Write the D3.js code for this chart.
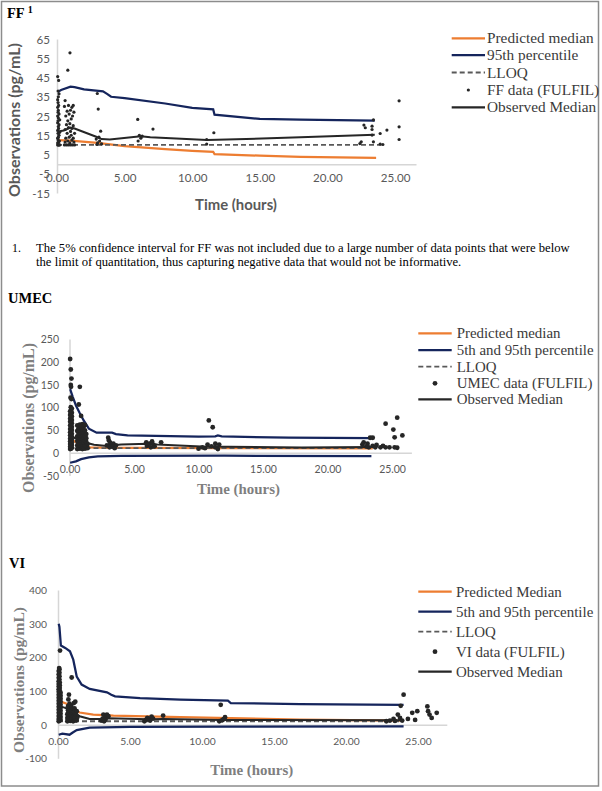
<!DOCTYPE html>
<html><head><meta charset="utf-8">
<script src="https://cdn.jsdelivr.net/npm/d3@7/dist/d3.min.js"></script>
<style>body{margin:0;background:#fff}svg{display:block}</style>
</head><body>
<svg id="chart" width="602" height="791"></svg>
<script>
// ---------------- DATA ----------------
const xTickValues = [0, 5, 10, 15, 20, 25];
const ffYTicks = [-15, -5, 5, 15, 25, 35, 45, 55, 65];
const umecYTicks = [-50, 0, 50, 100, 150, 200, 250];
const viYTicks = [-100, 0, 100, 200, 300, 400];

const ffLegendLabels = ['Predicted median', '95th percentile', 'LLOQ', 'FF data (FULFIL)', 'Observed Median'];
const umecLegendLabels = ['Predicted median', '5th and 95th percentile', 'LLOQ', 'UMEC data (FULFIL)', 'Observed Median'];
const viLegendLabels = ['Predicted Median', '5th and 95th percentile', 'LLOQ', 'VI data (FULFIL)', 'Observed Median'];

// FF series [time (h), concentration (pg/mL)]
const ffPredicted = [[0.05,12.5],[1,12.2],[3,11],[5,9.3],[8,7.8],[10,6.9],[11.55,6.4],[11.65,5.2],[15,4.4],[18,3.8],[23.6,3.2]];
const ffP95 = [[0.05,37.5],[0.3,38.5],[1.0,40.2],[1.3,40],[2,38.8],[3.4,37.8],[3.7,36.5],[4.0,35],[5,34.3],[8,31.5],[10,29.2],[11.55,28.5],[11.65,25.7],[15,23.5],[18,23.1],[23.5,22.6]];
const ffLLOQ = [[0,10],[24,10]];
const ffObsMedian = [[0.08,17],[0.5,17.5],[1.0,19],[1.3,18.5],[2.9,14.2],[3.3,13],[3.9,12.8],[6.2,14.5],[6.9,14],[11.1,12.5],[18,13.9],[23.5,15.3]];
const ffData = [
 [0.05,10],[0.1,10],[0.15,10],[0.2,10],[0.05,11],[0.12,11.5],[0.08,12.5],[0.18,12],[0.05,13.5],[0.1,14],[0.15,15],[0.08,16],[0.2,16.5],[0.05,17.5],[0.12,18.5],[0.1,19.5],[0.15,20.5],[0.05,21.5],[0.08,22.5],[0.2,23],[0.1,24],[0.05,25],[0.15,26],[0.08,27],[0.1,28],[0.05,29.5],[0.12,30.5],[0.08,32],[0.05,33.5],[0.1,35],[0.15,36.5],[0.08,38],[0.05,45.5],[0.12,43.5],
 [0.55,10],[0.7,10],[0.85,10],[1.0,10],[1.15,10],[1.3,10],[0.6,11.5],[0.8,12],[0.95,11],[1.1,12.5],[1.25,11.5],[0.65,13.5],[0.9,14],[1.05,15],[1.2,13.5],[0.75,16],[1.0,17],[1.3,16],[0.6,18],[0.85,19],[1.1,18.5],[0.7,20.5],[0.95,21],[1.2,20],[0.8,22.5],[1.05,23.5],[0.65,25],[0.9,26],[1.15,25],[0.75,27.5],[1.0,28],[1.25,27],[0.55,30],[0.85,30.5],[1.1,29.5],[0.6,33],[1.2,30.5],[0.96,57.8],[0.8,48.8],
 [2.98,36.7],[3.05,28.6],[3.23,17.1],[2.9,13],[3.0,11],[3.15,12],[3.3,10.5],[2.95,10.2],[3.1,14],
 [5.97,23.2],[6.09,15],[6.0,12],[6.2,13.5],[6.3,14.5],[7.1,18.2],
 [11.07,12.8],[11.07,10.4],[11.6,16.3],
 [22.4,10.7],[22.5,11.6],[22.7,20.3],[22.8,18.9],[23.3,19.7],[23.3,18],[23.3,15.1],[23.4,11.6],[23.4,23],[23.9,15.9],[23.9,10.4],[24.1,10.2],[24.4,17.7],[25.3,32.9],[25.3,19.4],[25.3,12.8]
];

// UMEC series
const umecPredicted = [[0.05,30],[0.4,25],[0.7,20],[1.1,14],[1.6,12],[2.5,11],[5,10.5],[12,10],[23.5,9.5]];
const umecP95 = [[0.05,140],[0.25,123],[0.5,104],[0.8,87],[1.1,71],[1.5,53],[2.1,44],[3.3,44],[3.6,41],[4.5,38],[10,35.5],[11.3,36],[11.5,38],[11.8,36],[17,33],[23.4,32]];
const umecP5 = [[0.05,-22],[0.5,-19],[0.9,-14],[1.5,-10],[2.2,-8],[4,-7],[12,-6.5],[23.4,-7.5]];
const umecLLOQ = [[0,10],[23.4,10]];
const umecObsMedian = [[0.05,35],[0.5,32],[0.9,29],[1.3,22],[1.9,17.5],[2.7,15.5],[3.2,16],[4,18],[6.1,20],[6.8,18],[10.2,13.5],[18,11.5],[23.4,12.5]];
const umecData = [
 [0.05,8],[0.12,9],[0.18,11],[0.05,13],[0.12,15],[0.18,17],[0.05,19],[0.12,21],[0.18,23],[0.05,25],[0.12,27],[0.18,29],[0.05,31],[0.12,33],[0.18,35],[0.05,38],[0.12,40],[0.18,42],[0.05,45],[0.12,47],[0.18,50],[0.05,52],[0.12,55],[0.18,57],[0.05,60],[0.12,62],[0.18,65],[0.05,68],[0.12,70],[0.18,72],[0.05,75],[0.12,78],[0.18,80],[0.05,83],[0.12,86],[0.18,88],[0.05,91],[0.12,94],[0.18,97],[0.1,100],
 [0.05,206],[0.1,183],[0.15,163],[0.1,149],[0.12,145],[0.08,121],[0.15,118],
 [0.6,8],[0.8,9],[1.0,8],[1.2,9],[1.4,10],[0.7,12],[0.9,13],[1.1,12],[1.3,14],[0.6,16],[0.8,17],[1.0,18],[1.2,17],[1.4,19],[0.7,21],[0.9,22],[1.1,23],[1.3,24],[0.6,26],[0.8,27],[1.0,28],[1.2,29],[0.7,31],[0.9,33],[1.1,34],[1.3,32],[0.6,36],[0.8,38],[1.0,39],[1.2,37],[0.7,42],[0.9,44],[1.1,45],[1.3,41],[0.6,48],[0.8,50],[1.0,51],[1.2,49],[0.7,54],[0.9,56],[1.1,57],[0.6,60],[0.8,62],[1.0,63],[1.2,61],[0.8,145],[0.72,106],[0.9,81],
 [3.0,33],[3.05,27],[2.9,16],[3.1,12],[3.2,18],[3.3,14],[3.4,20],[3.5,10],[3.6,16],[3.15,22],
 [5.95,23],[6.0,15],[6.2,20],[6.3,12],[6.5,18],[6.6,14],[6.4,25],[7.1,23],
 [10.0,9],[10.3,12],[10.5,10],[10.8,71],[11.1,56],[10.7,18],[11.0,14],[11.3,12],[11.5,8],[11.6,18],[11.3,20],
 [22.7,18],[22.8,23],[23.1,20],[23.2,12],[23.3,33],[23.5,33],[23.5,15],[23.7,12],[24.1,12],[24.5,12],[24.8,12],[25.2,12],[25.4,11],[24.5,64],[25.4,77],[25.1,51],[25.2,34],[25.8,38],[23.0,14],[23.8,17],[24.3,15]
];

// VI series
const viPredicted = [[0.1,70],[0.6,62],[1.06,46],[1.5,36],[2.45,30],[3.85,27],[8.5,22],[16.8,15],[24,12]];
const viP95 = [[0.05,300],[0.1,290],[0.2,235],[0.5,228],[0.83,218],[1.06,193],[1.3,143],[1.64,119],[2.2,106],[3.4,96],[3.7,89],[3.96,84],[5.7,79],[8.5,74],[11.8,71],[12,64],[16.8,61],[24,59]];
const viP5 = [[0.05,-30],[0.3,-27],[0.8,-30],[1.0,-24],[1.3,-16],[2.2,-9],[5,-7],[12,-6],[24,-5]];
const viLLOQ = [[0,10],[24,10]];
const viObsMedian = [[0.1,55],[0.5,50],[1.0,38],[1.5,25],[2.2,17],[3.2,17],[3.5,19],[6.3,16],[7.3,17],[11.3,14],[24,13]];
const viData = [
 [0.05,10],[0.12,12],[0.18,14],[0.05,17],[0.12,20],[0.18,23],[0.05,26],[0.12,29],[0.18,32],[0.05,35],[0.12,38],[0.18,41],[0.05,44],[0.12,47],[0.18,50],[0.05,53],[0.12,56],[0.18,59],[0.05,62],[0.12,65],[0.18,68],[0.05,71],[0.12,74],[0.18,77],[0.05,80],[0.12,83],[0.18,86],[0.05,89],[0.12,92],[0.18,95],[0.05,98],[0.12,101],[0.05,105],[0.12,109],[0.05,113],[0.12,117],[0.05,121],[0.12,125],[0.05,129],[0.1,134],[0.05,139],[0.1,144],[0.05,149],[0.1,154],[0.05,159],[0.1,164],[0.08,168],[0.14,220],
 [0.65,10],[0.85,11],[1.05,10],[1.25,12],[0.7,15],[0.9,16],[1.1,17],[1.3,14],[0.65,20],[0.85,21],[1.05,22],[1.25,20],[0.75,26],[0.95,27],[1.15,25],[1.35,23],[0.65,31],[0.85,32],[1.05,33],[1.25,30],[0.75,37],[0.95,38],[1.15,36],[0.7,43],[0.9,44],[1.1,42],[0.75,49],[0.95,50],[1.15,48],[0.7,55],[0.9,57],[1.1,64],[0.8,62],[0.72,75],[0.76,89],[0.95,140],[1.2,68],[1.3,40],
 [3.0,12],[3.1,18],[3.15,30],[3.25,22],[3.4,30],[3.5,25],[3.3,15],[3.2,10],
 [6.0,10],[6.1,14],[6.2,20],[6.35,16],[6.5,24],[6.6,18],[6.4,12],[7.3,27],
 [11.3,59],[11.2,10],[11.4,13],[11.6,22],[11.5,16],
 [22.8,10],[23.05,12],[23.3,17],[23.4,11],[23.6,30],[23.8,56],[24.0,89],[23.75,20],[23.9,12],[24.3,17],[24.6,35],[24.8,14],[24.95,40],[25.65,54],[25.7,40],[25.8,30],[25.95,20],[26.3,35]
];

const footnoteLines = [
  'The 5% confidence interval for FF was not included due to a large number of data points that were below',
  'the limit of quantitation, thus capturing negative data that would not be informative.'
];

// ---------------- STYLE ----------------
const SANS = 'Lato, "Open Sans", sans-serif';
const SERIF = '"Liberation Serif", "Times New Roman", serif';
const C = { orange: '#ED7D31', navy: '#15255c', black: '#262626', lloq: '#595959', axis: '#d6d6d6', tick: '#595959' };

const svg = d3.select('#chart');

function fitText(sel, target) {
  const len = sel.node().getComputedTextLength();
  const fs = parseFloat(sel.attr('font-size'));
  if (len > 0) sel.attr('font-size', (fs * target / len).toFixed(2));
  return sel;
}

function drawPanel(p) {
  const g = svg.append('g');
  const x = d3.scaleLinear().domain(p.xDomain).range(p.xRange);
  const y = d3.scaleLinear().domain(p.yDomain).range(p.yRange);

  // axes
  const gy = g.append('g').attr('transform', `translate(${x(0)},0)`)
    .call(d3.axisLeft(y).tickValues(p.yTicks).tickSize(0).tickPadding(p.yPad).tickFormat(d => String(d)));
  gy.select('.domain').attr('stroke', C.axis).attr('stroke-width', 1.5);
  gy.selectAll('text').attr('font-family', SANS).attr('font-size', p.tickFont).attr('fill', C.tick).attr('dy', '0.35em');

  const gx = g.append('g').attr('transform', `translate(0,${y(0)})`)
    .call(d3.axisBottom(x).tickValues(xTickValues).tickSize(0).tickFormat(d3.format('.2f')));
  gx.select('.domain').attr('stroke', C.axis).attr('stroke-width', 1.5);
  gx.selectAll('text').attr('font-family', SANS).attr('font-size', p.tickFont).attr('fill', C.tick)
    .attr('y', p.xLabelOffset).attr('dy', '0.35em');

  const line = d3.line().x(d => x(d[0])).y(d => y(d[1]));
  g.append('path').datum(p.predicted).attr('d', line).attr('fill', 'none').attr('stroke', C.orange).attr('stroke-width', 2.25);
  p.percentiles.forEach(s => g.append('path').datum(s).attr('d', line).attr('fill', 'none').attr('stroke', C.navy).attr('stroke-width', 2.25));
  g.append('path').datum(p.lloq).attr('d', line).attr('fill', 'none').attr('stroke', C.lloq).attr('stroke-width', 1.8).attr('stroke-dasharray', '5,3');
  g.append('g').selectAll('circle').data(p.data).join('circle')
    .attr('cx', d => x(d[0])).attr('cy', d => y(d[1])).attr('r', p.pointR).attr('fill', C.black);
  g.append('path').datum(p.obsMedian).attr('d', line).attr('fill', 'none').attr('stroke', C.black).attr('stroke-width', 2);

  // axis titles
  const yt = g.append('text').attr('transform', `translate(${p.yTitle[0]},${p.yTitle[1]}) rotate(-90)`)
    .attr('text-anchor', 'middle').attr('dy', '0.35em').attr('font-family', p.titleFont).attr('font-weight', 'bold')
    .attr('font-size', 15).attr('fill', p.titleColor).text('Observations (pg/mL)');
  fitText(yt, p.yTitle[2]);
  const xt = g.append('text').attr('x', p.xTitle[0]).attr('y', p.xTitle[1])
    .attr('text-anchor', 'middle').attr('dy', '0.35em').attr('font-family', p.titleFont).attr('font-weight', 'bold')
    .attr('font-size', 15).attr('fill', p.titleColor).text('Time (hours)');
  fitText(xt, p.xTitle[2]);

  // panel title
  const title = g.append('text').attr('x', p.title[1]).attr('y', p.title[2]).attr('font-family', SERIF)
    .attr('font-weight', 'bold').attr('font-size', 14.5).attr('fill', '#000').text(p.title[0]);
  if (p.sup) title.append('tspan').attr('dx', 3).attr('dy', -5).attr('font-size', 10).text(p.sup);

  // legend
  const lg = g.append('g');
  const L = p.legend;
  const texts = [];
  p.legendLabels.forEach((lab, i) => {
    const cy = L.rows[i];
    if (i === 3) {
      lg.append('circle').attr('cx', (L.x0 + L.x1) / 2).attr('cy', cy).attr('r', p.pointR).attr('fill', C.black);
    } else {
      const st = [C.orange, C.navy, C.lloq, null, C.black][i];
      const ln = lg.append('line').attr('x1', L.x0).attr('x2', L.x1).attr('y1', cy).attr('y2', cy)
        .attr('stroke', st).attr('stroke-width', i === 2 ? 1.8 : 2.25);
      if (i === 2) ln.attr('stroke-dasharray', '5,3');
    }
    texts.push(lg.append('text').attr('x', L.textX).attr('y', cy).attr('dy', '0.33em')
      .attr('font-family', SERIF).attr('font-size', 15).attr('fill', '#3a3a3a').text(lab));
  });
  const t0 = texts[L.fitIndex];
  fitText(t0, L.fitWidth);
  const fs = t0.attr('font-size');
  texts.forEach(t => t.attr('font-size', fs));
}

function draw() {
  svg.append('rect').attr('x', 1.5).attr('y', 1.5).attr('width', 597).attr('height', 784.5)
    .attr('fill', 'none').attr('stroke', '#8c8c8c').attr('stroke-width', 1.5);

  drawPanel({
    xDomain: [0, 26.55], xRange: [57, 416], yDomain: [-15, 65], yRange: [193, 39],
    yTicks: ffYTicks, yPad: 7, tickFont: 11.6, xLabelOffset: 14, pointR: 1.6,
    predicted: ffPredicted, percentiles: [ffP95], lloq: ffLLOQ, data: ffData, obsMedian: ffObsMedian,
    titleFont: SANS, titleColor: '#595959', yTitle: [14, 120, 154], xTitle: [236, 205, 82],
    title: ['FF', 7, 18], sup: '1',
    legendLabels: ffLegendLabels,
    legend: { x0: 451.7, x1: 485, textX: 487, rows: [38.3, 55, 72.5, 90, 107.3], fitIndex: 0, fitWidth: 106.7 }
  });

  // footnote
  const fn = svg.append('g');
  fn.append('text').attr('x', 12).attr('y', 251.5).attr('font-family', SERIF).attr('font-size', 11.8).attr('fill', '#000').text('1.');
  const l1 = fn.append('text').attr('x', 36).attr('y', 251.5).attr('font-family', SERIF).attr('font-size', 11.8).attr('fill', '#000').text(footnoteLines[0]);
  fitText(l1, 534);
  fn.append('text').attr('x', 36).attr('y', 265.5).attr('font-family', SERIF).attr('font-size', l1.attr('font-size')).attr('fill', '#000').text(footnoteLines[1]);

  drawPanel({
    xDomain: [0, 26.5], xRange: [69.5, 411.4], yDomain: [-50, 250], yRange: [475.5, 339],
    yTicks: umecYTicks, yPad: 10.5, tickFont: 10.5, xLabelOffset: 16.75, pointR: 2.4,
    predicted: umecPredicted, percentiles: [umecP95, umecP5], lloq: umecLLOQ, data: umecData, obsMedian: umecObsMedian,
    titleFont: SERIF, titleColor: '#7f7f7f', yTitle: [28, 418, 150], xTitle: [238.5, 489, 83],
    title: ['UMEC', 8, 303],
    legendLabels: umecLegendLabels,
    legend: { x0: 418.3, x1: 451.7, textX: 456.7, rows: [333.3, 350, 366.7, 383.3, 399.3], fitIndex: 1, fitWidth: 137 }
  });

  drawPanel({
    xDomain: [0, 27], xRange: [58, 446.8], yDomain: [-100, 400], yRange: [758.3, 590],
    yTicks: viYTicks, yPad: 11, tickFont: 10.3, xLabelOffset: 16.7, pointR: 2.4,
    predicted: viPredicted, percentiles: [viP95, viP5], lloq: viLLOQ, data: viData, obsMedian: viObsMedian,
    titleFont: SERIF, titleColor: '#7f7f7f', yTitle: [19, 680, 146], xTitle: [251.7, 770, 83],
    title: ['VI', 9, 568],
    legendLabels: viLegendLabels,
    legend: { x0: 418.3, x1: 451.7, textX: 456, rows: [591.7, 611.7, 631.7, 651.7, 671.7], fitIndex: 1, fitWidth: 137.3 }
  });
}
draw();
</script>
</body></html>
